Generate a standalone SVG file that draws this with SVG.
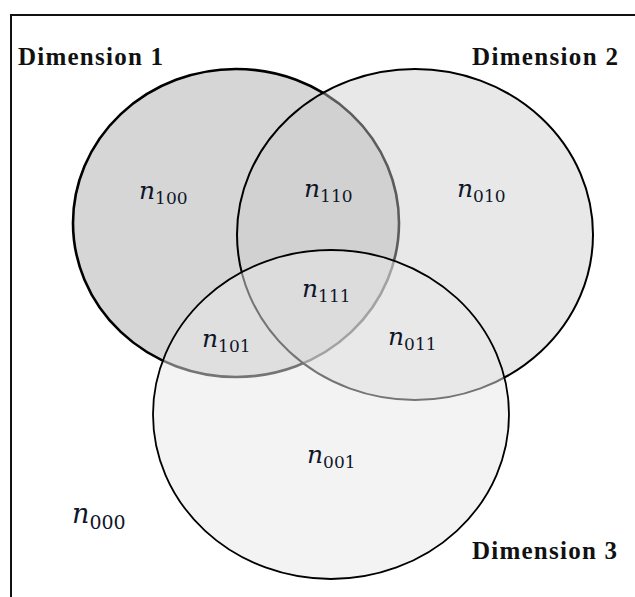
<svg xmlns="http://www.w3.org/2000/svg" width="635" height="597" viewBox="0 0 635 597">
<style>
.dim{font-family:"Liberation Serif","Times New Roman",serif;font-weight:bold;font-size:25px;fill:#111}
.n{font-family:"DejaVu Serif",serif;font-style:italic;font-size:25px;fill:#10162a}
.sub{font-style:normal;font-size:17px}
.big{font-size:27px}
.big .sub{font-size:19px}
</style>
<rect width="635" height="597" fill="#fff"/>
<g id="frame" fill="none" stroke="#111" stroke-width="2">
<polyline points="11,597 11,15 635,15"/>
</g>
<g id="dimension1">
<ellipse cx="236" cy="223" rx="163" ry="154" fill="#d6d6d6" stroke="#000" stroke-width="2.6"/>
<text class="dim" x="18" y="65" textLength="145">Dimension 1</text>
</g>
<g id="dimension2">
<ellipse cx="415" cy="234.5" rx="178" ry="165.5" fill="#cccccc" fill-opacity="0.45" stroke="#000" stroke-width="2"/>
<text class="dim" x="472" y="65" textLength="146">Dimension 2</text>
</g>
<g id="dimension3">
<ellipse cx="331" cy="414.5" rx="178" ry="164.5" fill="#e8e8e8" fill-opacity="0.5" stroke="#000" stroke-width="1.8"/>
<text class="dim" x="472" y="559" textLength="145">Dimension 3</text>
</g>
<g id="labels">
<text class="n" x="139" y="199">n<tspan class="sub" dy="5">100</tspan></text>
<text class="n" x="304" y="197">n<tspan class="sub" dy="5">110</tspan></text>
<text class="n" x="457" y="197">n<tspan class="sub" dy="5">010</tspan></text>
<text class="n" x="302" y="297">n<tspan class="sub" dy="5">111</tspan></text>
<text class="n" x="202" y="347">n<tspan class="sub" dy="5">101</tspan></text>
<text class="n" x="388" y="345">n<tspan class="sub" dy="5">011</tspan></text>
<text class="n" x="307" y="463">n<tspan class="sub" dy="5">001</tspan></text>
<text class="n big" x="72" y="523">n<tspan class="sub" dy="6">000</tspan></text>
</g>
<g id="connectors"/>
</svg>
